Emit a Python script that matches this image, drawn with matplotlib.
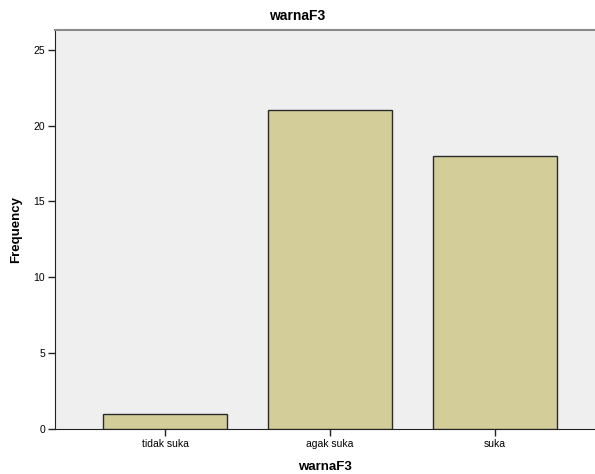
import matplotlib
matplotlib.use("Agg")
import matplotlib.pyplot as plt

kategori = ["tidak suka", "agak suka", "suka"]
frekuensi = [1, 21, 18]
yticks = [0, 5, 10, 15, 20, 25]

plt.rcParams["font.family"] = ["Liberation Sans", "DejaVu Sans"]

fig = plt.figure(figsize=(5.95, 4.74), dpi=100)
ax = fig.add_axes([0.0924, 0.0949, 0.9076, 0.8418])
ax.set_facecolor("#EFEFEF")

pos = list(range(len(kategori)))
ax.bar(pos, frekuensi, width=0.75, color="#D3CE99", edgecolor="#2b2b2b", linewidth=1.0, zorder=3)

ax.set_xlim(-0.667, 2.606)
ax.set_ylim(0, 26.3)
ax.set_yticks(yticks)
ax.set_xticks(pos)
ax.set_xticklabels(kategori)
ax.tick_params(axis="both", labelsize=7.5, length=5, width=1, color="#222222", pad=2)

ax.spines["right"].set_visible(False)
ax.spines["top"].set_color("#8a8a8a")
ax.spines["top"].set_linewidth(1.5)
ax.spines["left"].set_color("#222222")
ax.spines["bottom"].set_color("#222222")

ax.set_xlabel("warnaF3", fontsize=9.5, fontweight="bold", labelpad=9)
ax.set_ylabel("Frequency", fontsize=9.5, fontweight="bold", labelpad=8)
fig.text(0.5, 0.966, "warnaF3", ha="center", va="center", fontsize=10, fontweight="bold")

fig.savefig("out.png", dpi=100)
